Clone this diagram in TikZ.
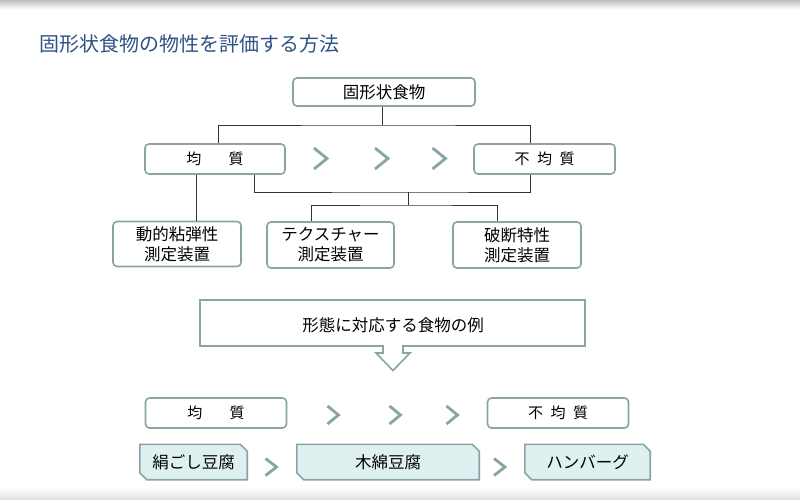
\documentclass[tikz,border=0pt]{standalone}
\usepackage{fontspec}
\setmainfont{Noto Sans CJK JP}
\usetikzlibrary{calc,backgrounds}
\definecolor{boxline}{HTML}{8AA4A6}
\definecolor{chev}{HTML}{8AA4A6}
\definecolor{lightfill}{HTML}{DFF0F1}
\definecolor{titleblue}{HTML}{2E5285}
\definecolor{connc}{HTML}{333333}
\tikzset{
  rbox/.style={draw=boxline, line width=1.6pt, rounded corners=4pt, fill=white,
    inner sep=0pt, align=center, font=\fontsize{16.5pt}{20pt}\selectfont},
  smallbox/.style={rbox, font=\fontsize{15pt}{18pt}\selectfont},
  plaintext/.style={inner sep=0pt, align=center, font=\fontsize{16.5pt}{20pt}\selectfont},
  connline/.style={draw=connc, line width=0.9pt},
  chevron/.style={draw=chev, line width=2.8pt},
  lbox/.style={draw=boxline, line width=1.6pt, fill=lightfill},
  bigarrow/.style={draw=boxline, line width=1.6pt, fill=white},
}
\newcommand\chevr[4]{\draw[chevron] ({#1-#3/2},{#2-#4/2}) -- ({#1+#3/2},#2) -- ({#1-#3/2},{#2+#4/2});}
\newcommand\chamf[1]{\draw[lbox] (#1.north west) -- ([xshift=-7pt]#1.north east) -- ([yshift=-7pt]#1.north east) -- (#1.south east) -- ([xshift=7pt]#1.south west) -- ([yshift=7pt]#1.south west) -- cycle;}
\begin{document}
\begin{tikzpicture}[x=1pt,y=-1pt]
\useasboundingbox (0,0) rectangle (800,500);
\begin{scope}[on background layer]
\fill[white] (0,0) rectangle (800,500);
\shade[top color=black!25, bottom color=white] (0,0) rectangle (800,9);
\shade[top color=white, bottom color=black!12] (0,487) rectangle (800,500);
\end{scope}

% title
\node[anchor=west, inner sep=0pt, text=titleblue, font=\fontsize{20pt}{22pt}\selectfont] (title) at (39,44) {固形状食物の物性を評価する方法};

% upper tree
\node[rbox, minimum width=182pt, minimum height=28pt] (top) at (384,92) {固形状食物};
\node[smallbox, minimum width=140pt, minimum height=30pt] (homo) at (215,159) {均\hspace{27.5pt}質};
\node[smallbox, minimum width=141pt, minimum height=30pt] (hetero) at (544.5,159) {不\hspace{7.5pt}均\hspace{7.5pt}質};
\node[rbox, minimum width=128pt, minimum height=45pt] (dyn) at (177,244) {動的粘弾性\\測定装置};
\node[rbox, minimum width=127pt, minimum height=46pt] (tex) at (330.5,245) {テクスチャー\\測定装置};
\node[rbox, minimum width=128pt, minimum height=46pt] (brk) at (517,245) {破断特性\\測定装置};

\coordinate (bus1) at (382,125);
\coordinate (bus2) at (408,192);
\coordinate (bus3) at (408,205);
\draw[connline] (top.south -| bus1) -- (bus1);
\draw[connline] ([xshift=3pt]homo.north) |- (bus1) -| ([xshift=-14.5pt]hetero.north);
\draw[connline] ([xshift=-19pt]homo.south) -- ([xshift=-19pt]homo.south |- dyn.north);
\draw[connline] ([xshift=39pt]homo.south) |- (bus2) -| ([xshift=-14.5pt]hetero.south);
\draw[connline] (bus2) -- (bus3);
\draw[connline] ([xshift=-19.5pt]tex.north) |- (bus3) -| ([xshift=-20pt]brk.north);

\chevr{320.5}{158.5}{13}{21}
\chevr{381.5}{158.5}{13}{21}
\chevr{439}{158.5}{13}{21}

% big arrow
\draw[bigarrow] (200,300) -- (585,300) -- (585,346) -- (403,346) -- (403,353) -- (410,353) -- (393,370.5) -- (376,353) -- (383,353) -- (383,346) -- (200,346) -- cycle;
\node[plaintext] (ex) at (393,325) {形態に対応する食物の例};

% lower row
\node[smallbox, minimum width=141pt, minimum height=30pt] (homo2) at (216,413) {均\hspace{27.5pt}質};
\node[smallbox, minimum width=141pt, minimum height=30pt] (hetero2) at (558,413) {不\hspace{7.5pt}均\hspace{7.5pt}質};
\chevr{333}{415}{11}{18}
\chevr{395}{415}{11}{18}
\chevr{452}{415}{11}{18}

\node[plaintext, minimum width=107pt, minimum height=35pt] (kinu) at (193.5,462) {絹ごし豆腐};
\node[plaintext, minimum width=182pt, minimum height=35pt] (momen) at (388,462) {木綿豆腐};
\node[plaintext, minimum width=125pt, minimum height=35pt] (hamb) at (587.5,462) {ハンバーグ};
\begin{scope}[on background layer]
\chamf{kinu}
\chamf{momen}
\chamf{hamb}
\end{scope}
\chevr{271}{467}{11}{17}
\chevr{499.5}{467}{11}{17}
\end{tikzpicture}
\end{document}
